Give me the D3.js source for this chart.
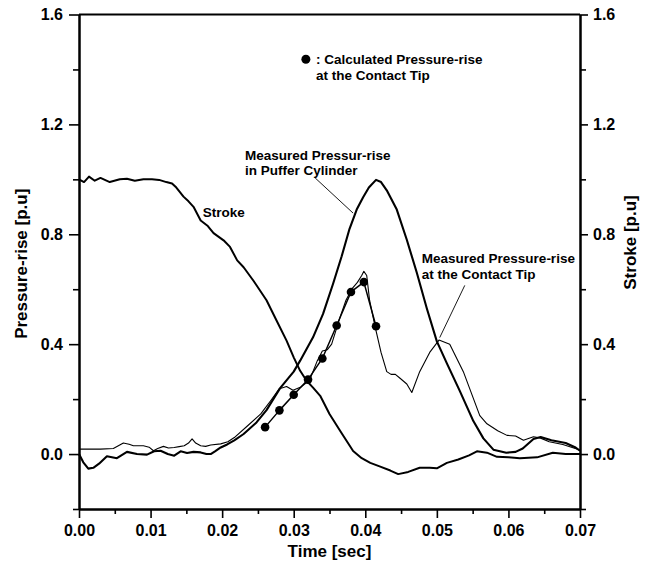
<!DOCTYPE html>
<html>
<head>
<meta charset="utf-8">
<script src="https://cdn.jsdelivr.net/npm/d3@7/dist/d3.min.js"></script>
<style>
  body { margin: 0; background: #fff; }
  svg text { font-family: "Liberation Sans", Arial, sans-serif; font-weight: bold; fill: #000; }
</style>
</head>
<body>
<div id="chart"></div>
<script>
// tick values
const timeTicks = [0, 0.01, 0.02, 0.03, 0.04, 0.05, 0.06, 0.07];
const timeMinor = [0.005, 0.015, 0.025, 0.035, 0.045, 0.055, 0.065];
const puTicks = [0, 0.4, 0.8, 1.2, 1.6];
const puMinor = [-0.2, 0.2, 0.6, 1.0, 1.4];

// measured pressure-rise in puffer cylinder
const pufferTime = [0, 0.0006, 0.0013, 0.002, 0.0028, 0.0039, 0.0053, 0.0067, 0.0081, 0.0095, 0.0105, 0.0114,
  0.0124, 0.0133, 0.0142, 0.0151, 0.016, 0.017, 0.0178, 0.0184, 0.019, 0.0198, 0.0207, 0.0217, 0.023, 0.0248,
  0.0262, 0.0281, 0.030, 0.0309, 0.0327, 0.0341, 0.0355, 0.0367, 0.0378, 0.0388, 0.0397, 0.0405, 0.0415, 0.0422,
  0.043, 0.0444, 0.0458, 0.0472, 0.0486, 0.050, 0.0514, 0.0532, 0.0551, 0.0565, 0.0579, 0.0597, 0.061, 0.062,
  0.0635, 0.0645, 0.066, 0.068, 0.0693, 0.070];
const pufferValue = [0.0, -0.03, -0.053, -0.05, -0.035, -0.008, -0.015, 0.008, 0.0, -0.002, 0.01, 0.012,
  0.0, -0.006, 0.01, 0.004, 0.008, 0.006, 0.0, 0.0, 0.01, 0.024, 0.035, 0.05, 0.073, 0.115,
  0.16, 0.24, 0.30, 0.34, 0.425, 0.51, 0.62, 0.72, 0.82, 0.89, 0.935, 0.97, 0.998, 0.99,
  0.96, 0.89, 0.78, 0.66, 0.53, 0.41, 0.33, 0.23, 0.12, 0.057, 0.016, 0.005, 0.008, 0.02,
  0.055, 0.062, 0.05, 0.04, 0.025, 0.012];

// measured pressure-rise at the contact tip
const contactTime = [0, 0.003, 0.0048, 0.0055, 0.0062, 0.007, 0.0076, 0.009, 0.0098, 0.0104, 0.011, 0.0118,
  0.0125, 0.0133, 0.014, 0.0147, 0.0153, 0.0158, 0.0163, 0.017, 0.0177, 0.0184, 0.0198, 0.0208, 0.0217, 0.0236,
  0.0254, 0.0268, 0.028, 0.029, 0.0299, 0.031, 0.0322, 0.0333, 0.034, 0.0347, 0.0353, 0.0365, 0.0373, 0.0381,
  0.0389, 0.0395, 0.0398, 0.0402, 0.0406, 0.0414, 0.0422, 0.043, 0.0436, 0.0442, 0.0449, 0.0458, 0.0465, 0.0476,
  0.049, 0.0503, 0.0518, 0.0537, 0.056, 0.057, 0.0585, 0.0598, 0.061, 0.0621, 0.0635, 0.0645, 0.0657, 0.0676, 0.070];
const contactValue = [0.018, 0.018, 0.02, 0.03, 0.04, 0.036, 0.03, 0.03, 0.025, 0.012, 0.02, 0.028,
  0.022, 0.024, 0.027, 0.03, 0.04, 0.055, 0.04, 0.03, 0.028, 0.033, 0.037, 0.045, 0.06, 0.104,
  0.146, 0.195, 0.238, 0.246, 0.232, 0.244, 0.268, 0.34, 0.375, 0.38, 0.40, 0.50, 0.56, 0.60,
  0.625, 0.65, 0.665, 0.65, 0.56, 0.46, 0.37, 0.30, 0.29, 0.29, 0.275, 0.255, 0.224, 0.30,
  0.37, 0.415, 0.40, 0.30, 0.14, 0.11, 0.085, 0.068, 0.066, 0.05, 0.063, 0.058, 0.045, 0.035, 0.015];

// stroke
const strokeTime = [0, 0.0007, 0.0014, 0.0022, 0.003, 0.0043, 0.0057, 0.0067, 0.0078, 0.009, 0.0102, 0.0112,
  0.0122, 0.013, 0.0136, 0.0146, 0.0153, 0.016, 0.017, 0.018, 0.0188, 0.0202, 0.0211, 0.0221, 0.023, 0.0244,
  0.0262, 0.0276, 0.029, 0.030, 0.0309, 0.0318, 0.0327, 0.0337, 0.035, 0.0365, 0.0383, 0.0395, 0.0407, 0.042,
  0.0435, 0.0446, 0.046, 0.0476, 0.049, 0.050, 0.0514, 0.053, 0.0545, 0.0556, 0.057, 0.0584, 0.06, 0.0616,
  0.064, 0.0662, 0.068, 0.07];
const strokeValue = [1.0, 0.99, 1.01, 0.995, 1.005, 0.99, 1.0, 1.002, 0.995, 1.0, 1.0, 0.998,
  0.99, 0.985, 0.97, 0.937, 0.92, 0.90, 0.85, 0.83, 0.804, 0.778, 0.754, 0.705, 0.68, 0.63,
  0.56, 0.486, 0.413, 0.352, 0.303, 0.267, 0.242, 0.212, 0.146, 0.084, 0.011, -0.015, -0.032, -0.045,
  -0.06, -0.073, -0.065, -0.05, -0.05, -0.052, -0.032, -0.02, -0.005, 0.01, 0.005, -0.01, -0.012, -0.015,
  -0.012, 0.005, 0.0, 0.0];

// calculated pressure-rise at the contact tip
const calcTime = [0.026, 0.028, 0.030, 0.032, 0.034, 0.036, 0.038, 0.0398, 0.0415];
const calcValue = [0.098, 0.159, 0.216, 0.271, 0.348, 0.468, 0.59, 0.626, 0.465];

const width = 653;
const height = 564;
const margin = {top: 14.5, right: 73, bottom: 55, left: 79};

const svg = d3.select('#chart').append('svg')
    .attr('width', width)
    .attr('height', height);

const x = d3.scaleLinear()
    .domain([0, 0.07])
    .range([margin.left, width - margin.right]);

const y = d3.scaleLinear()
    .domain([-0.2, 1.6])
    .range([height - margin.bottom, margin.top]);

const styleAxis = (g, w) => {
  g.selectAll('.domain').attr('stroke-width', w);
  g.selectAll('.tick line').attr('stroke-width', 1.6);
  g.selectAll('text').style('font-size', '16px');
};

// minor ticks
svg.append('g')
    .attr('transform', `translate(0,${y(-0.2)})`)
    .call(d3.axisBottom(x).tickValues(timeMinor).tickSize(5).tickSizeOuter(0).tickFormat(''))
    .call(g => styleAxis(g, 2));
svg.append('g')
    .attr('transform', `translate(${x(0)},0)`)
    .call(d3.axisLeft(y).tickValues(puMinor).tickSize(6).tickSizeOuter(0).tickFormat(''))
    .call(g => styleAxis(g, 2));
svg.append('g')
    .attr('transform', `translate(${x(0.07)},0)`)
    .call(d3.axisRight(y).tickValues(puMinor).tickSize(6).tickSizeOuter(0).tickFormat(''))
    .call(g => styleAxis(g, 2));

// major ticks
svg.append('g')
    .attr('transform', `translate(0,${y(-0.2)})`)
    .call(d3.axisBottom(x).tickValues(timeTicks).tickSize(9).tickPadding(7).tickSizeOuter(0).tickFormat(d3.format('.2f')))
    .call(g => styleAxis(g, 2));
svg.append('g')
    .attr('transform', `translate(${x(0)},0)`)
    .call(d3.axisLeft(y).tickValues(puTicks).tickSize(10).tickPadding(6).tickSizeOuter(0).tickFormat(d3.format('.1f')))
    .call(g => styleAxis(g, 2));
svg.append('g')
    .attr('transform', `translate(${x(0.07)},0)`)
    .call(d3.axisRight(y).tickValues(puTicks).tickSize(8).tickPadding(5).tickSizeOuter(0).tickFormat(d3.format('.1f')))
    .call(g => styleAxis(g, 2));

// top frame line
svg.append('line')
    .attr('x1', x(0)).attr('x2', x(0.07))
    .attr('y1', y(1.6)).attr('y2', y(1.6))
    .attr('stroke', '#000')
    .attr('stroke-width', 2);

// axis titles
svg.append('text')
    .attr('x', (x(0) + x(0.07)) / 2)
    .attr('y', 557)
    .attr('text-anchor', 'middle')
    .style('font-size', '17px')
    .text('Time [sec]');

svg.append('text')
    .attr('transform', `translate(27,${(y(-0.2) + y(1.6)) / 2 + 2}) rotate(-90)`)
    .attr('text-anchor', 'middle')
    .style('font-size', '17px')
    .text('Pressure-rise [p.u]');

svg.append('text')
    .attr('transform', `translate(636,${y(0.77)}) rotate(-90)`)
    .attr('text-anchor', 'middle')
    .style('font-size', '17px')
    .text('Stroke [p.u]');

// curves
const line = d3.line()
    .x(d => x(d[0]))
    .y(d => y(d[1]));

const drawCurve = (times, values, w) => {
  svg.append('path')
      .datum(d3.zip(times, values))
      .attr('fill', 'none')
      .attr('stroke', '#000')
      .attr('stroke-width', w)
      .attr('stroke-linejoin', 'round')
      .attr('d', line);
};

drawCurve(contactTime, contactValue, 1.1);
drawCurve(pufferTime, pufferValue, 2.1);
drawCurve(strokeTime, strokeValue, 2);
drawCurve(calcTime, calcValue, 1.5);

svg.append('g')
  .selectAll('circle')
    .data(d3.zip(calcTime, calcValue))
  .enter().append('circle')
    .attr('cx', d => x(d[0]))
    .attr('cy', d => y(d[1]))
    .attr('r', 4.3)
    .attr('fill', '#000');

// annotations
const note = (t, v, lines) => {
  const txt = svg.append('text')
      .attr('x', x(t))
      .attr('y', y(v))
      .style('font-size', '13.5px');
  lines.forEach((s, i) => {
    txt.append('tspan')
        .attr('x', x(t))
        .attr('dy', i === 0 ? 0 : 15.5)
        .text(s);
  });
};

const leader = (t1, v1, t2, v2) => {
  svg.append('line')
      .attr('x1', x(t1)).attr('y1', y(v1))
      .attr('x2', x(t2)).attr('y2', y(v2))
      .attr('stroke', '#000')
      .attr('stroke-width', 0.9);
};

svg.append('circle')
    .attr('cx', x(0.0317))
    .attr('cy', y(1.437))
    .attr('r', 4.5)
    .attr('fill', '#000');
note(0.0331, 1.419, [': Calculated Pressure-rise', 'at the Contact Tip']);

note(0.0232, 1.071, ['Measured Pressur-rise', 'in Puffer Cylinder']);
leader(0.0330, 1.005, 0.0383, 0.877);

note(0.0173, 0.863, ['Stroke']);

note(0.0479, 0.695, ['Measured Pressure-rise', 'at the Contact Tip']);
leader(0.0539, 0.614, 0.0504, 0.424);
</script>
</body>
</html>
